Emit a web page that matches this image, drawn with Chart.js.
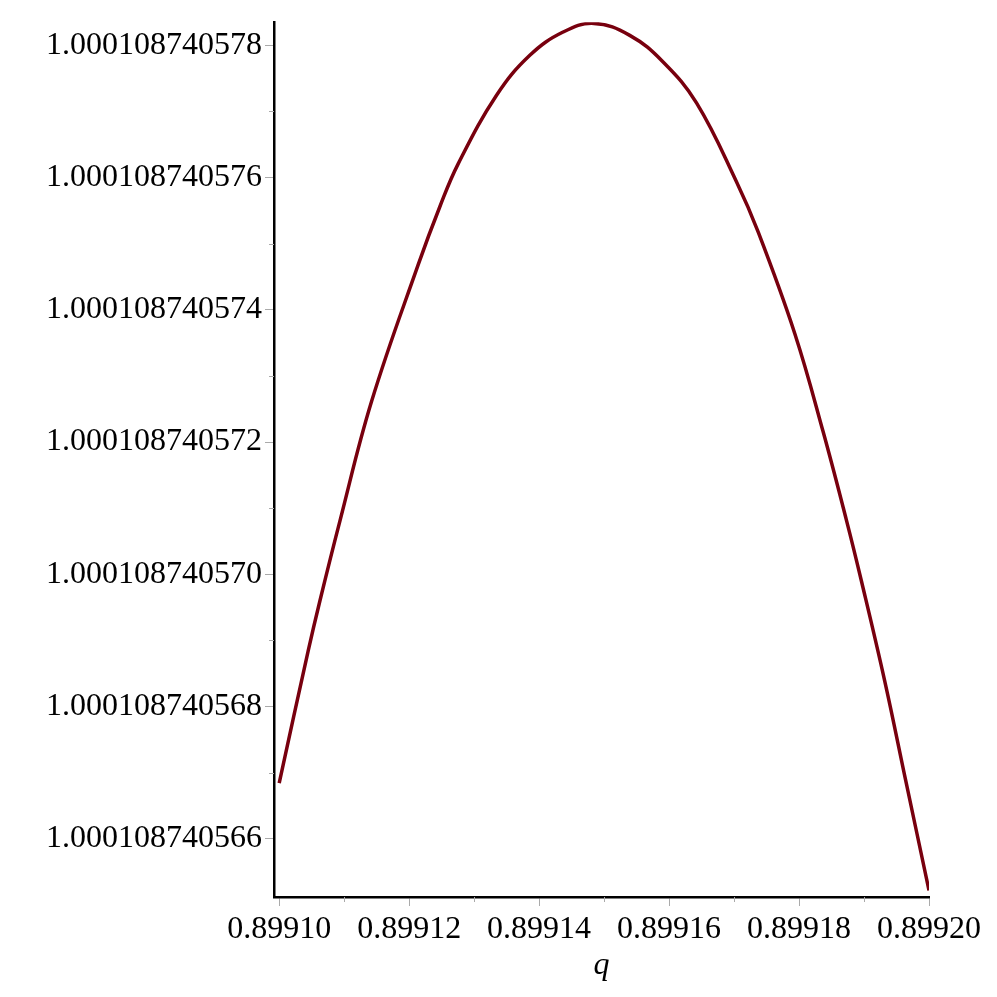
<!DOCTYPE html>
<html>
<head>
<meta charset="utf-8">
<title>q curve</title>
<script src="https://cdn.jsdelivr.net/npm/chart.js@4.4.1/dist/chart.umd.min.js"></script>
<style>
    html, body { margin: 0; padding: 0; background: #fff; }
    #wrap { width: 997px; height: 997px; }
</style>
</head>
<body>
<div id="wrap"><canvas id="plot" width="997" height="997"></canvas></div>
<script>
// Values (q on x, function value on y)
const qValues = [
    0.89910000, 0.89910446, 0.89910626, 0.89910934, 0.89911422,
    0.89912138, 0.89912472, 0.89912754, 0.89913345, 0.89913857,
    0.89914369, 0.89914842, 0.89915395, 0.89915908, 0.89916422,
    0.89917037, 0.89917369, 0.89917934, 0.89918369, 0.89918729,
    0.89918960, 0.89919318, 0.89919642, 0.89920000
];
const fValues = [
    1.000108740566842, 1.000108740568842, 1.000108740569597, 1.000108740570805, 1.000108740572616,
    1.000108740574679, 1.000108740575559, 1.000108740576208, 1.000108740577245, 1.000108740577849,
    1.000108740578201, 1.000108740578332, 1.000108740578151, 1.000108740577748, 1.000108740577129,
    1.000108740575937, 1.000108740575182, 1.000108740573642, 1.000108740572163, 1.000108740570820,
    1.000108740569899, 1.000108740568389, 1.000108740566880, 1.000108740565220
];

// Axis ticks
const xTicks = [0.89910, 0.89912, 0.89914, 0.89916, 0.89918, 0.89920];
const xMinorTicks = [0.89911, 0.89913, 0.89915, 0.89917, 0.89919];
const yTicks = [
    1.000108740566, 1.000108740568, 1.000108740570, 1.000108740572,
    1.000108740574, 1.000108740576, 1.000108740578
];
const yMinorTicks = [
    1.000108740567, 1.000108740569, 1.000108740571, 1.000108740573,
    1.000108740575, 1.000108740577
];

const FONT = "'Liberation Serif', 'DejaVu Serif', serif";

/**
 * Short gray minor tick marks, placed through the chart's own scales
 */
const minorTicksPlugin = {
    id: 'minorTicks',
    afterDraw(chart) {
        const ctx = chart.ctx;
        const xs = chart.scales.x;
        const ys = chart.scales.y;
        ctx.save();
        ctx.strokeStyle = '#aaaaaa';
        ctx.lineWidth = 1;
        ctx.beginPath();
        xMinorTicks.forEach(v => {
            const px = Math.round(xs.getPixelForValue(v)) + 0.5;
            ctx.moveTo(px, xs.top);
            ctx.lineTo(px, xs.top + 5);
        });
        yMinorTicks.forEach(v => {
            const py = Math.round(ys.getPixelForValue(v)) + 0.5;
            ctx.moveTo(ys.right, py);
            ctx.lineTo(ys.right - 5, py);
        });
        ctx.stroke();
        ctx.restore();
    }
};

const points = qValues.map((q, i) => ({ x: q, y: fValues[i] }));

new Chart(document.getElementById('plot'), {
    type: 'line',
    data: {
        datasets: [{
            data: points,
            borderColor: '#78000E',
            borderWidth: 3.5,
            pointRadius: 0,
            fill: false,
            tension: 0.4
        }]
    },
    options: {
        responsive: false,
        animation: false,
        events: [],
        layout: {
            padding: { top: 20, right: 68, bottom: 0, left: 0 }
        },
        plugins: {
            legend: { display: false },
            tooltip: { enabled: false }
        },
        scales: {
            x: {
                type: 'linear',
                min: 0.8990992,
                max: 0.89920,
                afterBuildTicks: scale => {
                    scale.ticks = xTicks.map(v => ({ value: v }));
                },
                afterFit: scale => { scale.height = 100; },
                border: { color: '#000', width: 2.5 },
                grid: {
                    drawOnChartArea: false,
                    drawTicks: true,
                    tickLength: 9,
                    color: '#aaaaaa'
                },
                ticks: {
                    autoSkip: false,
                    maxRotation: 0,
                    padding: 4,
                    color: '#000',
                    font: { family: FONT, size: 32 },
                    callback: v => Number(v).toFixed(5)
                },
                title: {
                    display: true,
                    text: 'q',
                    color: '#000',
                    font: { family: FONT, size: 32, style: 'italic' },
                    padding: { top: 0, bottom: 12 }
                }
            },
            y: {
                type: 'linear',
                min: 1.00010874056512,
                max: 1.00010874057835,
                afterBuildTicks: scale => {
                    scale.ticks = yTicks.map(v => ({ value: v }));
                },
                afterFit: scale => { scale.width = 274; },
                border: { color: '#000', width: 2.5 },
                grid: {
                    drawOnChartArea: false,
                    drawTicks: true,
                    tickLength: 9,
                    color: '#aaaaaa'
                },
                ticks: {
                    autoSkip: false,
                    padding: 3,
                    color: '#000',
                    font: { family: FONT, size: 32 },
                    callback: v => Number(v).toFixed(12)
                }
            }
        }
    },
    plugins: [minorTicksPlugin]
});
</script>
</body>
</html>
